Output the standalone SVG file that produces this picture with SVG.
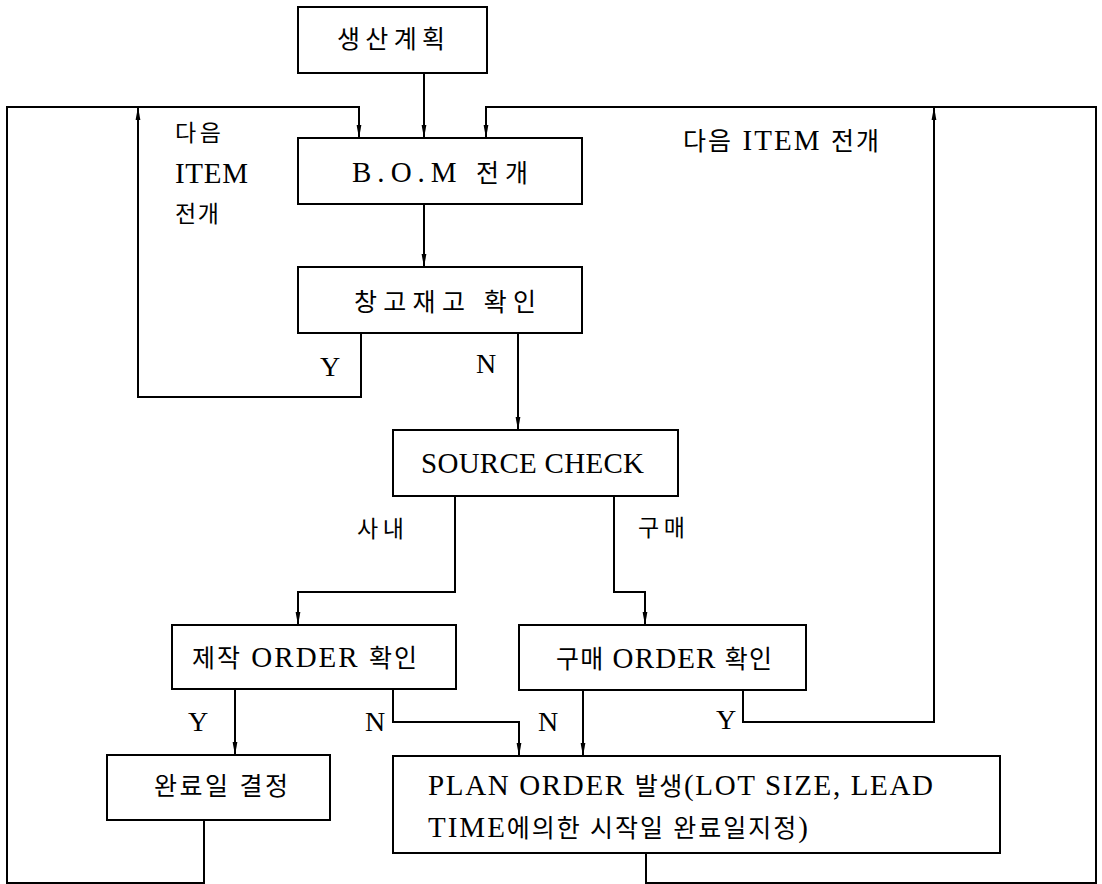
<svg xmlns="http://www.w3.org/2000/svg" width="1102" height="884" viewBox="0 0 1102 884">
<style>
.box{fill:#fff;stroke:#000;stroke-width:2}
.ln{fill:none;stroke:#000;stroke-width:2}
text{font-family:"Liberation Serif","Noto Sans CJK KR",serif;font-size:29px;fill:#000}
.k{font-size:25px}
.s{font-size:23px}
.yn{font-size:28px}
</style>
<defs>
<marker id="ah" markerUnits="userSpaceOnUse" markerWidth="14" markerHeight="6" refX="13" refY="3" orient="auto">
<path d="M0,0.6 L13,3 L0,5.4 Z" fill="#000"/>
</marker>
</defs>
<rect width="1102" height="884" fill="#fff"/>
<g id="connectors">
<path class="ln" d="M424,73 V138" marker-end="url(#ah)"/>
<path class="ln" d="M424,204 V267" marker-end="url(#ah)"/>
<path class="ln" d="M361,333 V397 H138 V107" marker-end="url(#ah)"/>
<path class="ln" d="M204,820 V883 H7 V107 H359 V138" marker-end="url(#ah)"/>
<path class="ln" d="M518,333 V430" marker-end="url(#ah)"/>
<path class="ln" d="M455,496 V592 H298 V625" marker-end="url(#ah)"/>
<path class="ln" d="M614,496 V592 H645 V625" marker-end="url(#ah)"/>
<path class="ln" d="M235,689 V755" marker-end="url(#ah)"/>
<path class="ln" d="M393,689 V722 H519 V756" marker-end="url(#ah)"/>
<path class="ln" d="M583,690 V756" marker-end="url(#ah)"/>
<path class="ln" d="M743,690 V722 H934 V107" marker-end="url(#ah)"/>
<path class="ln" d="M646,853 V883 H1096 V107 H486 V138" marker-end="url(#ah)"/>
</g>
<g id="labels">
<text class="s" x="175" y="141" textLength="46" lengthAdjust="spacing">다음</text>
<text x="175" y="183" textLength="73" lengthAdjust="spacing">ITEM</text>
<text class="s" x="175" y="222" textLength="44" lengthAdjust="spacing">전개</text>
<text x="683" y="150" textLength="196" lengthAdjust="spacing"><tspan class="k">다음</tspan> ITEM <tspan class="k">전개</tspan></text>
<text class="yn" x="320" y="376">Y</text>
<text class="yn" x="476" y="373">N</text>
<text class="s" x="357" y="537" textLength="47" lengthAdjust="spacing">사내</text>
<text class="s" x="638" y="536" textLength="47" lengthAdjust="spacing">구매</text>
<text class="yn" x="188" y="731">Y</text>
<text class="yn" x="365" y="731">N</text>
<text class="yn" x="538" y="731">N</text>
<text class="yn" x="716" y="729">Y</text>
</g>
<g id="n1">
<rect class="box" x="298" y="7" width="189" height="66"/>
<text class="k" x="337" y="48" textLength="108" lengthAdjust="spacing">생산계획</text>
</g>
<g id="n2">
<rect class="box" x="298" y="138" width="284" height="66"/>
<text x="352" y="182" textLength="176" lengthAdjust="spacing">B.O.M <tspan class="k">전개</tspan></text>
</g>
<g id="n3">
<rect class="box" x="298" y="267" width="284" height="66"/>
<text class="k" x="354" y="311" textLength="182" lengthAdjust="spacing">창고재고 확인</text>
</g>
<g id="n4">
<rect class="box" x="393" y="430" width="285" height="66"/>
<text x="421" y="473" textLength="223" lengthAdjust="spacing">SOURCE CHECK</text>
</g>
<g id="n5">
<rect class="box" x="172" y="625" width="284" height="64"/>
<text x="192" y="667" textLength="225" lengthAdjust="spacing"><tspan class="k">제작</tspan> ORDER <tspan class="k">확인</tspan></text>
</g>
<g id="n6">
<rect class="box" x="519" y="625" width="287" height="65"/>
<text x="556" y="668" textLength="216" lengthAdjust="spacing"><tspan class="k">구매</tspan> ORDER <tspan class="k">확인</tspan></text>
</g>
<g id="n7">
<rect class="box" x="107" y="755" width="223" height="65"/>
<text class="k" x="154" y="795" textLength="134" lengthAdjust="spacing">완료일 결정</text>
</g>
<g id="n8">
<rect class="box" x="393" y="756" width="607" height="97"/>
<text x="428" y="795" textLength="505" lengthAdjust="spacing">PLAN ORDER <tspan class="k">발생</tspan>(LOT SIZE, LEAD</text>
<text x="428" y="837" textLength="380" lengthAdjust="spacing">TIME<tspan class="k">에의한 시작일 완료일지정</tspan>)</text>
</g>
</svg>
